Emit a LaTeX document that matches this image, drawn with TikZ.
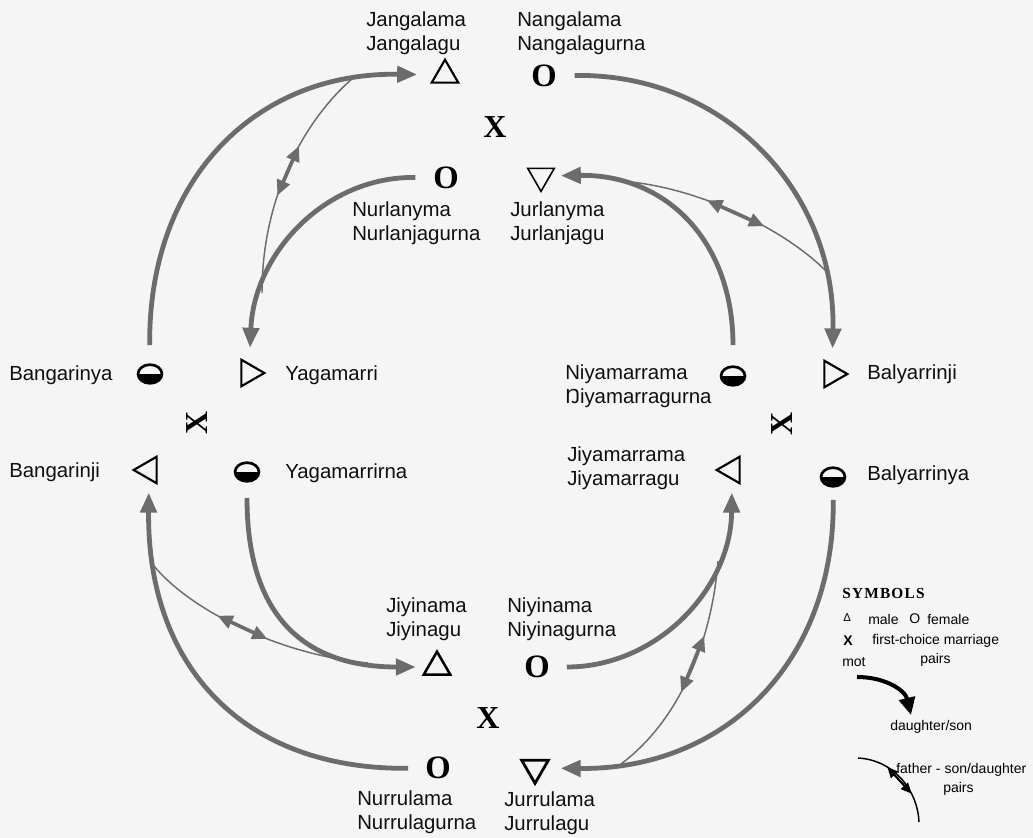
\documentclass[tikz,border=0pt]{standalone}
\usepackage{fontspec}
\setmainfont{Liberation Sans}
\newfontfamily\glyphserif{Liberation Serif}
\newfontfamily\legendcaps[LetterSpace=8]{Liberation Serif}
\usetikzlibrary{arrows.meta,shapes.geometric}
\definecolor{arcgray}{RGB}{108,108,108}
\definecolor{txt}{RGB}{15,15,15}
\definecolor{bgc}{RGB}{245,245,245}
\begin{document}
\begin{tikzpicture}[x=0.75pt,y=-0.75pt,
  lbl/.style={anchor=west, align=left, inner sep=0, font=\fontsize{15.3pt}{18.4pt}\selectfont, text=txt},
  fem/.style={inner sep=0, font=\glyphserif\bfseries\fontsize{24.5pt}{25pt}\selectfont, text=black},
  mx/.style={inner sep=0, font=\glyphserif\bfseries\fontsize{24pt}{25pt}\selectfont, text=black},
  trig/.style={regular polygon, regular polygon sides=3, minimum size=23pt, inner sep=0pt, draw=black, line width=1.6pt, line join=miter},
  tup/.style={trig},
  tdown/.style={trig, shape border rotate=180},
  tright/.style={trig, shape border rotate=-90},
  tleft/.style={trig, shape border rotate=90},
  half/.style={ellipse, minimum width=18pt, minimum height=14pt, inner sep=0pt, draw=black, line width=2pt,
     path picture={\fill[black] (path picture bounding box.west) rectangle (path picture bounding box.south east);}},
  mo/.style={draw=arcgray, line width=3.6pt, -{Triangle[length=15pt,width=12pt]}},
  fs/.style={draw=arcgray, line width=1.1pt},
  fsa/.style={draw=arcgray, line width=2.6pt, {Triangle[length=11.5pt,width=10pt]}-{Triangle[length=11.5pt,width=10pt]}},
  leg/.style={anchor=west, inner sep=0, font=\fontsize{10.5pt}{12pt}\selectfont, text=black},
]
\useasboundingbox (0,0) rectangle (1033,838);
\fill[bgc] (0,0) rectangle (1033,838);

% ---------- top group ----------
\node[tup, outer sep=12.5pt] (jga) at (445,75) {};
\node[fem, outer sep=13.5pt] (nga) at (544,76) {O};
\node[mx] (xt) at (495,127) {X};
\node[fem, outer sep=13.5pt] (nur) at (446,178) {O};
\node[tdown, line width=1.2pt, outer sep=7pt] (jur) at (541,176) {};
\node[lbl] (ljga) at (366,33) {Jangalama\\Jangalagu};
\node[lbl] (lnga) at (517,33) {Nangalama\\Nangalagurna};
\node[lbl] (lnur) at (352,223) {Nurlanyma\\Nurlanjagurna};
\node[lbl] (ljur) at (510,223) {Jurlanyma\\Jurlanjagu};

% ---------- left group ----------
\node[half, outer sep=14.6pt] (bya) at (150,374) {};
\node[tright, outer sep=11pt] (yag) at (249,373) {};
\node[mx, rotate=90] (xl) at (197,423) {X};
\node[tleft, outer sep=9pt] (bji) at (149,470) {};
\node[half, outer sep=12.4pt] (ygn) at (247,472) {};
\node[lbl] (lbya) at (9,375) {Bangarinya};
\node[lbl] (lyag) at (285,375) {Yagamarri};
\node[lbl] (lbji) at (9,472) {Bangarinji};
\node[lbl] (lygn) at (285,473) {Yagamarrirna};

% ---------- right group ----------
\node[half, outer sep=16.1pt] (niy) at (733,376) {};
\node[tright, outer sep=11pt] (bal) at (832,374) {};
\node[mx, rotate=90] (xr) at (782,424) {X};
\node[tleft, outer sep=9pt] (jiy) at (732,470) {};
\node[half, outer sep=10.1pt] (byn) at (833,477) {};
\node[lbl] (lniy) at (565,386) {Niyamarrama\\Ŋiyamarragurna};
\node[lbl] (lbal) at (867,374) {Balyarrinji};
\node[lbl] (ljiy) at (567,468) {Jiyamarrama\\Jiyamarragu};
\node[lbl] (lbyn) at (867,475) {Balyarrinya};

% ---------- bottom group ----------
\node[tup, line width=1.9pt, outer sep=8pt] (jin) at (437,667) {};
\node[fem, outer sep=12.8pt] (nin) at (537,667) {O};
\node[mx] (xb) at (488,718) {X};
\node[fem, outer sep=12.8pt] (nrr) at (438,768) {O};
\node[tdown, line width=2.1pt, outer sep=11pt] (jrr) at (535,768) {};
\node[lbl] (ljin) at (386,619) {Jiyinama\\Jiyinagu};
\node[lbl] (lnin) at (507,619) {Niyinama\\Niyinagurna};
\node[lbl] (lnrr) at (357,812) {Nurrulama\\Nurrulagurna};
\node[lbl] (ljrr) at (504,813) {Jurrulama\\Jurrulagu};

% ---------- mother -> daughter/son arcs ----------
\draw[mo] (bya) .. controls (148,180) and (255,72) .. (jga);
\draw[mo] (nga) .. controls (724,73) and (836,191) .. (bal);
\draw[mo] (nur) .. controls (326,176) and (254,253) .. (yag);
\draw[mo] (niy) .. controls (733,241) and (666,174) .. (jur);
\draw[mo] (ygn) .. controls (247,613) and (301,667) .. (jin);
\draw[mo] (nrr) .. controls (244,770) and (147,667) .. (bji);
\draw[mo] (nin) .. controls (657,667) and (731,589) .. (jiy);
\draw[mo] (byn) .. controls (835,662) and (725,770) .. (jrr);

% ---------- father - son/daughter pairs ----------
\coordinate (f1a) at (353,78);  \coordinate (f1b) at (262,293);
\coordinate (f2a) at (619,181); \coordinate (f2b) at (826,271);
\coordinate (f3a) at (154,566); \coordinate (f3b) at (368,663);
\coordinate (f4a) at (718,561); \coordinate (f4b) at (621,764);
\draw[fs] (f1a) .. controls (310,115) and (262,190) .. (f1b) coordinate[pos=0.43] (f1p) coordinate[pos=0.65] (f1q);
\draw[fs] (f2a) .. controls (690,185) and (780,225) .. (f2b) coordinate[pos=0.39] (f2p) coordinate[pos=0.65] (f2q);
\draw[fs] (f3a) .. controls (190,610) and (280,655) .. (f3b) coordinate[pos=0.39] (f3p) coordinate[pos=0.61] (f3q);
\draw[fs] (f4a) .. controls (712,640) and (680,720) .. (f4b) coordinate[pos=0.32] (f4p) coordinate[pos=0.58] (f4q);
\draw[fsa] (f1p) -- (f1q);
\draw[fsa] (f2p) -- (f2q);
\draw[fsa] (f3p) -- (f3q);
\draw[fsa] (f4p) -- (f4q);

% ---------- legend ----------
\node[anchor=west, inner sep=0, font=\legendcaps\bfseries\fontsize{11.5pt}{12pt}\selectfont] (lsym) at (842,593) {SYMBOLS};
\node[leg, font=\fontsize{8.5pt}{10pt}\selectfont] (lgm) at (843,618) {Δ};
\node[leg] (lmale) at (868,619) {male};
\node[leg] (lgf) at (909,619) {O};
\node[leg] (lfem) at (927,619) {female};
\node[leg, font=\bfseries\fontsize{10.5pt}{12pt}\selectfont] (lgx) at (843,641) {X};
\node[leg] (lfcm) at (872,641) {first-choice marriage};
\node[leg] (lmot) at (842,662) {mot};
\node[leg] (lpr1) at (920,660) {pairs};
\node[leg] (ldau) at (890,727) {daughter/son};
\node[leg] (lfat) at (896,770) {father - son/daughter};
\node[leg] (lpr2) at (943,789) {pairs};
\coordinate (lg1) at (857,677); \coordinate (lg2) at (911,715);
\draw[black, line width=3pt, -{Triangle[length=13pt,width=12pt]}] (lg1) .. controls (885,677) and (905,690) .. (lg2);
\coordinate (lt1) at (858,758); \coordinate (lt2) at (919,822);
\draw[black, line width=1.1pt] (lt1) .. controls (895,760) and (918,792) .. (lt2) coordinate[pos=0.30] (ltp) coordinate[pos=0.68] (ltq);
\draw[black, line width=1.6pt, {Triangle[length=8pt,width=7pt]}-{Triangle[length=8pt,width=7pt]}] (ltp) -- (ltq);
\end{tikzpicture}
\end{document}
